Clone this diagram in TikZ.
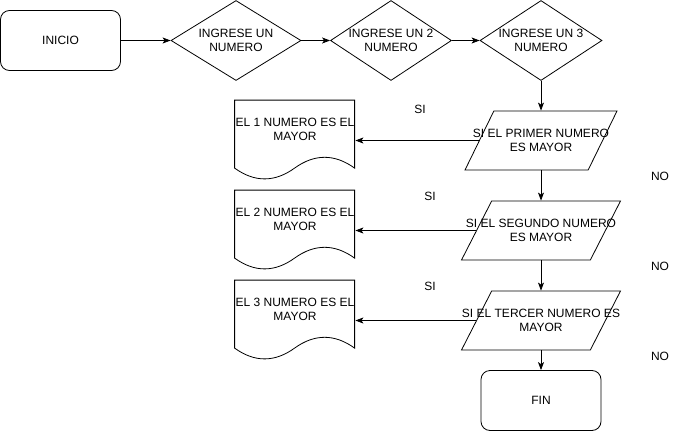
\documentclass[tikz,border=0pt]{standalone}
\usepackage{fontspec}
\setmainfont{Liberation Sans}
\usetikzlibrary{arrows.meta,shapes.geometric}
\tikzset{
  txt/.style={font=\fontsize{12}{14.5}\selectfont,align=center,inner sep=0pt},
  term/.style={draw,rounded corners=9pt,minimum width=120pt,minimum height=60pt,txt},
  inbox/.style={draw,diamond,minimum width=#1,minimum height=80pt,inner sep=0pt},
  cond/.style={draw,trapezium,trapezium left angle=73,trapezium right angle=107,trapezium stretches=true,minimum width=#1,minimum height=59pt,inner sep=2pt},
  docbox/.style={minimum width=120pt,minimum height=80pt,inner sep=0pt},
  flow/.style={-{Stealth[length=8pt,width=6pt,inset=2pt]}},
  every picture/.style={x=1pt,y=-1pt,line width=0.8pt}
}
% wavy-bottom output sheet, drawn from the node's top left corner
\newcommand\sheetline[1]{%
  \draw[shift={(#1.north west)}] (0,0) -- (120,0) -- (120,68) .. controls (100,53.6) and (80,53.6) .. (60,68)
    .. controls (40,82.4) and (20,82.4) .. (0,68) -- cycle;}
\begin{document}
\begin{tikzpicture}
  \useasboundingbox (0,0) rectangle (691,431);
  % top row
  \node[term] (ini) at (60.5,40.5) {INICIO};
  \node[inbox=130pt,label={[txt]center:{INGRESE UN\\NUMERO}}] (n1) at (236,40.5) {};
  \node[inbox=121pt,label={[txt]center:{INGRESE UN 2\\NUMERO}}] (n2) at (391,40.5) {};
  \node[inbox=122pt,label={[txt]center:{INGRESE UN 3\\NUMERO}}] (n3) at (541,40.5) {};
  \draw[flow] (ini) -- (n1);
  \draw[flow] (n1) -- (n2);
  \draw[flow] (n2) -- (n3);
  % comparisons
  \node[cond=152pt,label={[txt]center:{SI EL PRIMER NUMERO\\ES MAYOR}}] (c1) at (541,140.5) {};
  \node[cond=159pt,label={[txt]center:{SI EL SEGUNDO NUMERO\\ES MAYOR}}] (c2) at (541,230.5) {};
  \node[cond=159pt,label={[txt]center:{SI EL TERCER NUMERO ES\\MAYOR}}] (c3) at (541,320.5) {};
  \node[term] (fin) at (541,400.5) {FIN};
  \draw[flow] (n3) -- (c1);
  \draw[flow] (c1) -- (c2);
  \draw[flow] (c2) -- (c3);
  \draw[flow] (c3) -- (fin);
  % results
  \node[docbox,label={[txt,yshift=11pt]center:{EL 1 NUMERO ES EL\\MAYOR}}] (o1) at (295,140.5) {};
  \node[docbox,label={[txt,yshift=11pt]center:{EL 2 NUMERO ES EL\\MAYOR}}] (o2) at (295,230.5) {};
  \node[docbox,label={[txt,yshift=11pt]center:{EL 3 NUMERO ES EL\\MAYOR}}] (o3) at (295,320.5) {};
  \sheetline{o1} \sheetline{o2} \sheetline{o3}
  \draw[flow] (c1.west) -- (o1.east);
  \draw[flow] (c2.west) -- (o2.east);
  \draw[flow] (c3.west) -- (o3.east);
  % branch labels
  \node[txt] (si1) at (420,109) {SI};
  \node[txt] (si2) at (430,196) {SI};
  \node[txt] (si3) at (430,286) {SI};
  \node[txt] (no1) at (660,176) {NO};
  \node[txt] (no2) at (660,266) {NO};
  \node[txt] (no3) at (660,356) {NO};
\end{tikzpicture}
\end{document}
